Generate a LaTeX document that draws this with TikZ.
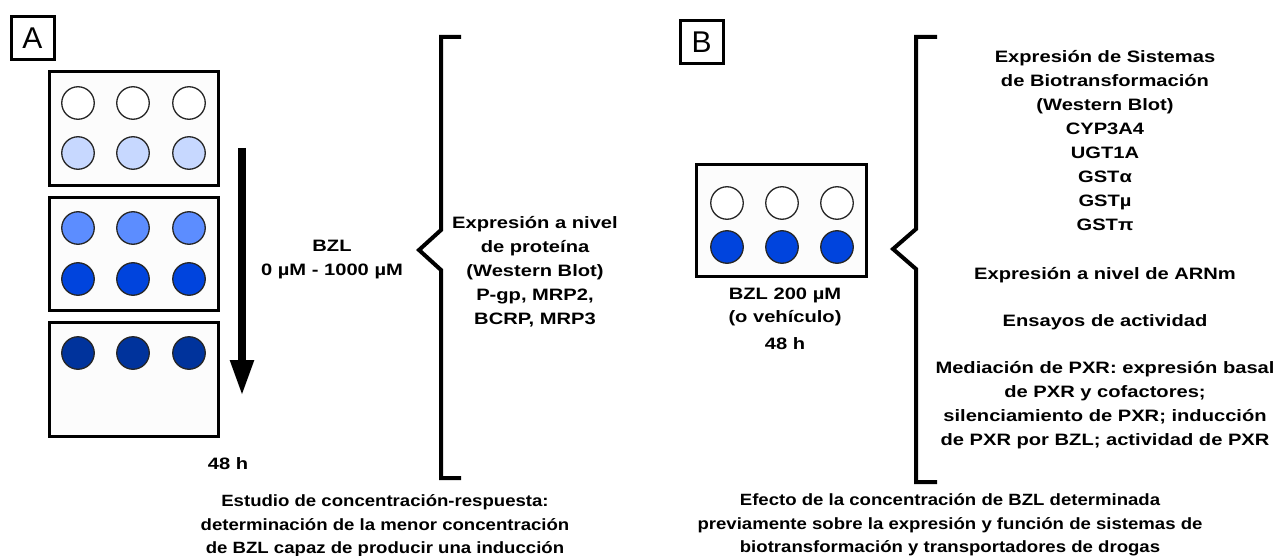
\documentclass[tikz,border=0pt]{standalone}
\usepackage{fontspec}
\setmainfont{Liberation Sans}
\newfontfamily\lblfont[FakeStretch=1.22]{Liberation Sans}
\newfontfamily\capfont[FakeStretch=1.14]{Liberation Sans}
\usetikzlibrary{arrows.meta}
\definecolor{wellA}{HTML}{FFFFFF}
\definecolor{wellB}{HTML}{C7D8FF}
\definecolor{wellC}{HTML}{5C8DFF}
\definecolor{wellD}{HTML}{0044DD}
\definecolor{wellE}{HTML}{00339C}
\definecolor{platebg}{HTML}{FCFCFC}
\begin{document}
\begin{tikzpicture}[x=1pt,y=-1pt,
  plate/.style={draw=black,line width=3.5pt,fill=platebg,rectangle,inner sep=0pt},
  well/.style={circle,draw=black!85,line width=1.3pt,minimum size=32.5pt,inner sep=0pt},
  panel/.style={draw=black,line width=3pt,minimum size=43pt,inner sep=0pt,font=\fontsize{30}{30}\selectfont},
  lbl/.style={align=center,inner sep=0pt,font=\lblfont\bfseries\fontsize{16.5}{24}\selectfont},
  captext/.style={align=center,inner sep=0pt,font=\capfont\bfseries\fontsize{16.3}{23.5}\selectfont},
  brace/.style={line width=4pt,line join=miter,line cap=butt}]
\useasboundingbox[fill=white] (0,0) rectangle (1281,556);

% ---- panel A ----
\node[panel] (labA) at (32.5,38.5) {A};

\node[plate,minimum width=169pt,minimum height=114pt] (pA1) at (134,128.5) {};
\node[plate,minimum width=169pt,minimum height=113pt] (pA2) at (134,254) {};
\node[plate,minimum width=169pt,minimum height=114pt] (pA3) at (134,379.5) {};

\foreach \x [count=\i] in {78,133,189}{
  \node[well,fill=wellA] (a1r1c\i) at (\x,103) {};
  \node[well,fill=wellB] (a1r2c\i) at (\x,153) {};
  \node[well,fill=wellC] (a2r1c\i) at (\x,228) {};
  \node[well,fill=wellD] (a2r2c\i) at (\x,279) {};
  \node[well,fill=wellE] (a3r1c\i) at (\x,353) {};
}

\coordinate (arrTop) at (242,148);
\coordinate (arrTip) at (242,396);
\draw[line width=8pt,-{Triangle[width=22pt,length=36pt]}] (arrTop) -- (arrTip);

\node[lbl] (bzlA) at (332,259.5) {BZL\\0 µM - 1000 µM};
\node[lbl] (timeA) at (228,464) {48 h};

\draw[brace] (461,37) -- (441,37) -- (441,230) -- (419,250) -- (441,270) -- (441,478) -- (461,478);

\node[lbl] (protA) at (535,272) {Expresión a nivel\\de proteína\\(Western Blot)\\P-gp, MRP2,\\BCRP, MRP3};

\node[captext] (capA) at (385,526) {Estudio de concentración-respuesta:\\determinación de la menor concentración\\de BZL capaz de producir una inducción};

% ---- panel B ----
\node[panel] (labB) at (701.5,42) {B};

\node[plate,minimum width=170pt,minimum height=112pt] (pB) at (781.5,220.5) {};
\foreach \x [count=\i] in {727,782,837}{
  \node[well,fill=wellA] (b1c\i) at (\x,203) {};
  \node[well,fill=wellD] (b2c\i) at (\x,247) {};
}

\node[lbl,font=\lblfont\bfseries\fontsize{16.5}{23}\selectfont] (bzlB) at (785,307) {BZL 200 µM\\(o vehículo)};
\node[lbl] (timeB) at (785,344) {48 h};

\draw[brace] (937,37) -- (916,37) -- (916,229) -- (893,249) -- (916,269) -- (916,482) -- (937,482);

\node[lbl] (bioB) at (1105,141) {Expresión de Sistemas\\de Biotransformación\\(Western Blot)\\CYP3A4\\UGT1A\\GSTα\\GSTµ\\GSTπ};
\node[lbl] (arnB) at (1105,275) {Expresión a nivel de ARNm};
\node[lbl] (actB) at (1105,322) {Ensayos de actividad};
\node[lbl] (pxrB) at (1105,405) {Mediación de PXR: expresión basal\\de PXR y cofactores;\\silenciamiento de PXR; inducción\\de PXR por BZL; actividad de PXR};

\node[captext] (capB) at (950,525) {Efecto de la concentración de BZL determinada\\previamente sobre la expresión y función de sistemas de\\biotransformación y transportadores de drogas};
\end{tikzpicture}
\end{document}
